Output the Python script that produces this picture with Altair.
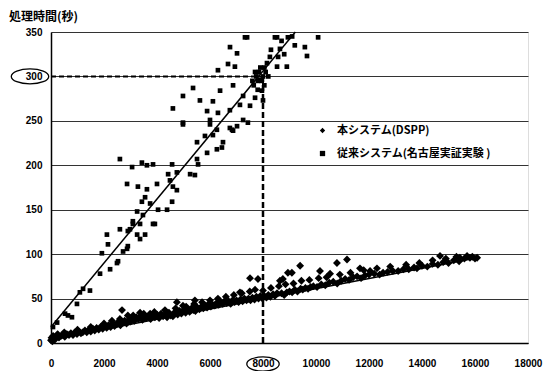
import altair as alt
import pandas as pd

series_names = ["本システム(DSPP)", "従来システム(名古屋実証実験 )"]

dspp_points = [
    (0, 3), (20, 6), (50, 2), (80, 8), (100, 5), (150, 4), (200, 7), (250, 10), (300, 6), (380, 8),
    (450, 9), (520, 7), (600, 10), (680, 9), (750, 11), (830, 9), (900, 12), (980, 10), (1050, 13),
    (1130, 11), (1200, 12), (1280, 14), (1350, 12), (1430, 15), (1500, 13), (1580, 16), (1650, 14),
    (1720, 17), (1800, 15), (1870, 18), (1950, 16), (2020, 19), (2100, 17), (2170, 20), (2250, 18),
    (2320, 22), (2400, 19), (2480, 21), (2550, 24), (2620, 20), (2680, 37), (2700, 23), (2780, 25),
    (2850, 22), (2900, 31), (2930, 26), (3000, 24), (3080, 28), (3150, 25), (3220, 29), (3300, 27),
    (3360, 34), (3380, 30), (3450, 26), (3520, 31), (3600, 28), (3680, 30), (3740, 33), (3760, 27),
    (3850, 31), (3920, 29), (4000, 32), (4080, 28), (4150, 33), (4230, 30), (4300, 32), (4380, 29),
    (4450, 34), (4520, 31), (4600, 30), (4680, 35), (4750, 46), (4780, 32), (4850, 36), (4920, 33),
    (4980, 42), (5000, 37), (5080, 34), (5150, 38), (5230, 35), (5300, 39), (5380, 37), (5430, 48),
    (5450, 36), (5520, 40), (5600, 38), (5680, 41), (5750, 39), (5830, 42), (5890, 40), (5950, 44),
    (6030, 41), (6100, 43), (6180, 42), (6250, 45), (6330, 43), (6400, 46), (6480, 44), (6550, 47),
    (6630, 45), (6700, 47), (6780, 44), (6850, 48), (6930, 46), (7000, 48), (7080, 46), (7130, 57),
    (7150, 49), (7230, 47), (7300, 50), (7380, 48), (7450, 50), (7510, 73), (7530, 48), (7600, 51),
    (7680, 49), (7750, 52), (7810, 72), (7830, 50), (7900, 53), (7980, 50), (8050, 53), (8130, 51),
    (8200, 54), (8280, 52), (8380, 55), (8450, 53), (8530, 56), (8640, 70), (8700, 56), (8750, 72),
    (8800, 54), (8900, 57), (8940, 79), (9000, 58), (9090, 79), (9100, 57), (9200, 60), (9300, 58),
    (9400, 87), (9420, 61), (9500, 60), (9600, 62), (9700, 61), (9800, 63), (9900, 64), (10040, 63),
    (10150, 81), (10200, 66), (10350, 65), (10530, 78), (10500, 68), (10650, 69), (10790, 90),
    (10800, 67), (10950, 70), (11100, 72), (11170, 94), (11250, 71), (11400, 74), (11550, 75),
    (11660, 84), (11700, 73), (11850, 76), (12040, 81), (12000, 77), (12200, 78), (12400, 77),
    (12530, 79), (12700, 80), (12900, 81), (13100, 81), (13300, 83), (13500, 83), (13700, 85),
    (13810, 84), (14000, 87), (14200, 86), (14400, 89), (14600, 88), (14680, 98), (14800, 91),
    (15000, 90), (15200, 93), (15430, 96), (15400, 92), (15600, 95), (15810, 96), (15900, 97),
    (16000, 95), (16080, 96),
    # upper edge of the dense band
    (500, 12), (1000, 15), (1500, 18), (2000, 22), (2300, 25), (2600, 27), (3100, 31), (3500, 33),
    (3900, 35), (4300, 37), (4700, 39), (5100, 41), (5400, 44), (5700, 46), (6000, 48), (6300, 50),
    (6600, 52), (6900, 54), (7200, 56), (7500, 58), (7700, 60), (8000, 59), (8300, 62), (8600, 64),
    (8850, 66), (9150, 67), (9450, 70), (9750, 71), (10100, 73), (10400, 74), (10900, 77),
    (11300, 79), (11800, 82), (12300, 84), (12800, 86), (13400, 88), (13900, 90), (14400, 93),
    (14900, 95), (15300, 97), (15700, 98),
]

old_points = [
    (75, 18), (230, 23), (530, 33), (640, 31), (790, 29), (980, 44), (1090, 57), (1210, 61),
    (1470, 59), (1850, 78), (1920, 101), (2150, 111), (2110, 122), (2230, 83), (2490, 90),
    (2530, 92), (2600, 128), (2600, 207), (2720, 103), (2870, 106), (2870, 179), (2900, 109),
    (2900, 126), (2980, 128), (3060, 198), (3090, 134), (3090, 137), (3250, 122), (3250, 148),
    (3280, 176), (3360, 117), (3360, 134), (3430, 159), (3430, 203), (3470, 144), (3550, 122),
    (3550, 164), (3620, 173), (3620, 200), (3740, 157), (3850, 134), (3850, 201), (3920, 134),
    (4000, 179), (4040, 150), (4380, 150), (4420, 190), (4490, 183), (4570, 159), (4570, 201),
    (4600, 176), (4600, 264), (4750, 172), (4750, 192), (4980, 246), (4980, 248), (4980, 278),
    (5250, 190), (5360, 287), (5430, 189), (5510, 207), (5510, 226), (5550, 201), (5620, 273),
    (5810, 233), (5890, 214), (5890, 261), (6000, 246), (6000, 251), (6110, 234), (6110, 272),
    (6260, 218), (6260, 240), (6300, 259), (6300, 307), (6380, 284), (6450, 220), (6490, 226),
    (6680, 314), (6750, 242), (6750, 262), (6755, 333), (6830, 240), (6870, 239), (6870, 290),
    (6940, 311), (7020, 244), (7020, 326), (7130, 268), (7250, 251), (7250, 278), (7320, 344),
    (7400, 344), (7430, 248), (7510, 267), (7700, 276), (7890, 296), (7960, 284), (8000, 273),
    (8260, 322), (8450, 344), (8530, 311), (8530, 344), (8570, 322), (8640, 331), (8900, 311),
    (8940, 344), (9580, 333), (9660, 323), (10080, 344),
    (7650, 290), (7750, 300), (7800, 285), (7850, 305), (7900, 310), (7950, 295), (8000, 300),
    (8050, 290), (8100, 305), (8150, 315), (7700, 305), (7600, 295), (7800, 295), (8050, 310),
    (8200, 300), (8300, 330), (8700, 340), (9100, 345), (9200, 335), (8800, 325),
]

# trend lines (endpoints)
trend_dspp_x = [0, 16100]
trend_dspp_y = [4, 96]
trend_old_x = [0, 9220]
trend_old_y = [18, 350]

# guide values
mark_x = 8000
mark_y = 300

x_ticks = [0, 2000, 4000, 6000, 8000, 10000, 12000, 14000, 16000, 18000]
y_ticks = [0, 50, 100, 150, 200, 250, 300, 350]

dspp_df = pd.DataFrame([{"x": x, "y": y, "series": series_names[0]} for x, y in dspp_points])
old_df = pd.DataFrame([{"x": x, "y": y, "series": series_names[1]} for x, y in old_points])

trend_rows = [{"x": x, "y": y, "series": series_names[0]} for x, y in zip(trend_dspp_x, trend_dspp_y)]
trend_rows += [{"x": x, "y": y, "series": series_names[1]} for x, y in zip(trend_old_x, trend_old_y)]
trend_df = pd.DataFrame(trend_rows)

xscale = alt.Scale(domain=[0, 18000], nice=False)
yscale = alt.Scale(domain=[0, 350], nice=False)

xaxis = alt.Axis(values=x_ticks, title=None, grid=False, ticks=False, labelPadding=15,
                 format="d", labelFlush=False)
yaxis = alt.Axis(values=y_ticks, title=None, grid=True, ticks=False, labelPadding=9,
                 format="d")

shape_enc = alt.Shape("series:N",
                      scale=alt.Scale(domain=series_names, range=["diamond", "square"]),
                      legend=alt.Legend(title=None, orient="none", legendX=266, legendY=93,
                                        symbolSize=28, symbolFillColor="black",
                                        symbolStrokeColor="black",
                                        labelFontSize=11,
                                        labelFont="Noto Sans CJK JP", labelFontWeight="bold",
                                        labelColor="black", rowPadding=10, labelOffset=9))

dspp_layer = alt.Chart(dspp_df).mark_point(filled=True, opacity=1, size=62).encode(
    x=alt.X("x:Q", scale=xscale, axis=xaxis),
    y=alt.Y("y:Q", scale=yscale, axis=yaxis),
    shape=shape_enc,
    color=alt.value("black"),
)
old_layer = alt.Chart(old_df).mark_point(filled=True, opacity=1, size=22).encode(
    x=alt.X("x:Q", scale=xscale),
    y=alt.Y("y:Q", scale=yscale),
    shape=shape_enc,
    color=alt.value("black"),
)

trend = alt.Chart(trend_df).mark_line(color="black", strokeWidth=1.5).encode(
    x=alt.X("x:Q", scale=xscale),
    y=alt.Y("y:Q", scale=yscale),
    detail="series:N",
)

guide_df = pd.DataFrame({"gx": [mark_x], "gy": [mark_y], "zero": [0]})
vrule = alt.Chart(guide_df).mark_rule(color="black", strokeWidth=2.5, strokeDash=[6, 3]).encode(
    x=alt.X("gx:Q", scale=xscale), y=alt.Y("zero:Q", scale=yscale), y2="gy:Q")
hrule = alt.Chart(guide_df).mark_rule(color="black", strokeWidth=2, strokeDash=[5, 3]).encode(
    y=alt.Y("gy:Q", scale=yscale), x=alt.X("zero:Q", scale=xscale), x2="gx:Q")

ellipse = "M -1 0 A 1 0.4 0 1 0 1 0 A 1 0.4 0 1 0 -1 0 Z"
ell_y = alt.Chart(guide_df).mark_point(shape=ellipse, size=1400, filled=False, color="black",
                                       strokeWidth=1.3, opacity=1).encode(
    x=alt.value(-21), y=alt.Y("gy:Q", scale=yscale))
ell_x = alt.Chart(guide_df).mark_point(shape="M -1 0 A 1 0.44 0 1 0 1 0 A 1 0.44 0 1 0 -1 0 Z",
                                       size=1050, filled=False, color="black",
                                       strokeWidth=1.3, opacity=1).encode(
    x=alt.X("gx:Q", scale=xscale), y=alt.value(332))

chart = alt.layer(trend, dspp_layer, old_layer, vrule, hrule, ell_y, ell_x).properties(
    width=477, height=311,
    autosize=alt.AutoSizeParams(type="none"),
    padding={"left": 43, "top": 24, "right": 20, "bottom": 28},
    title=alt.TitleParams("処理時間(秒)", anchor="start", frame="group", dx=-42, offset=3,
                          fontSize=12, font="Noto Sans CJK JP", fontWeight="bold", color="black"),
).configure_view(stroke="#bbbbbb", strokeDash=[1, 1]).configure_axis(
    domainColor="black", domainWidth=1.5, gridColor="#333333", gridWidth=1.2,
    labelFont="Liberation Sans", labelFontWeight="bold", labelFontSize=10, labelColor="black",
)

chart.save("out.html", embed_options={"renderer": "svg", "actions": False})
